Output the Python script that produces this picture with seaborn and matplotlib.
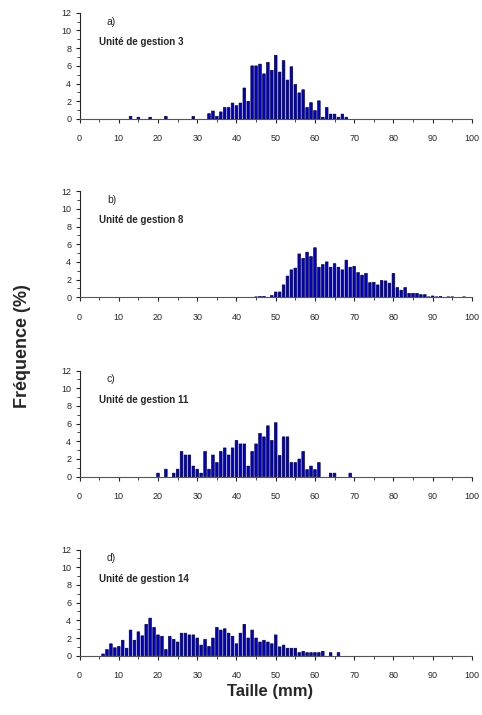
import numpy as np
import pandas as pd
import seaborn as sns
import matplotlib.pyplot as plt
from matplotlib.ticker import MultipleLocator

sns.set_style('ticks')
plt.rcParams['font.family'] = ['Liberation Sans', 'DejaVu Sans']

# classes de taille (mm) et fréquences (%)
taille_a = [13, 15, 18, 22, 29, 33, 34, 35, 36, 37, 38, 39, 40, 41, 42, 43, 44, 45, 46, 47, 48, 49,
            50, 51, 52, 53, 54, 55, 56, 57, 58, 59, 60, 61, 62, 63, 64, 65, 66, 67, 68]
freq_a = [0.3, 0.2, 0.2, 0.3, 0.3, 0.6, 0.9, 0.3, 0.8, 1.3, 1.3, 1.8, 1.5, 1.8, 3.5, 2.0, 6.0, 6.0, 6.2, 5.1, 6.4, 5.5,
          7.2, 5.3, 6.6, 4.4, 5.9, 3.9, 2.95, 3.3, 1.3, 1.85, 0.95, 2.05, 0.2, 1.3, 0.55, 0.55, 0.2, 0.55, 0.2]

taille_b = [45, 46, 47, 49, 50, 51, 52, 53, 54, 55, 56, 57, 58, 59, 60, 61, 62, 63, 64, 65, 66, 67, 68, 69,
            70, 71, 72, 73, 74, 75, 76, 77, 78, 79, 80, 81, 82, 83, 84, 85, 86, 87, 88, 89, 90, 91, 92, 94, 95, 98]
freq_b = [0.05, 0.1, 0.1, 0.2, 0.6, 0.6, 1.4, 2.4, 3.1, 3.3, 4.9, 4.4, 5.1, 4.6, 5.6, 3.4, 3.7, 4.0, 3.4, 3.8, 3.4, 3.1, 4.2, 3.4,
          3.5, 2.8, 2.5, 2.7, 1.65, 1.7, 1.4, 1.9, 1.85, 1.6, 2.7, 1.1, 0.8, 1.1, 0.45, 0.45, 0.45, 0.3, 0.3, 0.05, 0.15, 0.05, 0.1, 0.05, 0.05, 0.05]

taille_c = [20, 22, 24, 25, 26, 27, 28, 29, 30, 31, 32, 33, 34, 35, 36, 37, 38, 39, 40, 41, 42, 43, 44, 45,
            46, 47, 48, 49, 50, 51, 52, 53, 54, 55, 56, 57, 58, 59, 60, 61, 64, 65, 69]
freq_c = [0.4, 0.85, 0.4, 0.85, 2.85, 2.45, 2.45, 1.2, 0.85, 0.4, 2.85, 0.85, 2.45, 1.6, 2.85, 3.25, 2.45, 3.25, 4.1, 3.7, 3.7, 1.2, 2.85, 3.7,
          4.9, 4.5, 5.75, 4.1, 6.1, 2.4, 4.5, 4.5, 1.6, 1.6, 2.0, 2.85, 0.8, 1.2, 0.8, 1.6, 0.4, 0.4, 0.4]

taille_d = [6, 7, 8, 9, 10, 11, 12, 13, 14, 15, 16, 17, 18, 19, 20, 21, 22, 23, 24, 25, 26, 27, 28, 29, 30,
            31, 32, 33, 34, 35, 36, 37, 38, 39, 40, 41, 42, 43, 44, 45, 46, 47, 48, 49, 50, 51, 52, 53, 54,
            55, 56, 57, 58, 59, 60, 61, 62, 64, 66]
freq_d = [0.2, 0.7, 1.35, 0.9, 1.05, 1.75, 0.85, 2.9, 1.75, 2.7, 2.25, 3.55, 4.25, 3.2, 2.35, 2.2, 0.7, 2.2, 1.85, 1.55, 2.55, 2.55, 2.35, 2.35, 2.0,
          1.2, 1.85, 1.05, 2.0, 3.2, 2.9, 3.05, 2.55, 2.2, 1.35, 2.55, 3.55, 2.0, 2.9, 2.0, 1.55, 1.75, 1.55, 1.35, 2.35, 1.0, 1.2, 0.85, 0.85,
          0.85, 0.35, 0.5, 0.35, 0.35, 0.35, 0.35, 0.5, 0.35, 0.35]

lettres = ['a)', 'b)', 'c)', 'd)']
titres = ['Unité de gestion 3', 'Unité de gestion 8', 'Unité de gestion 11', 'Unité de gestion 14']
tailles = [taille_a, taille_b, taille_c, taille_d]
freqs = [freq_a, freq_b, freq_c, freq_d]

fig = plt.figure(figsize=(4.82, 7.15), dpi=100)
bas = [0.8336, 0.5842, 0.3333, 0.0829]
for i in range(4):
    ax = fig.add_axes([0.165, bas[i], 0.814, 0.1485])
    df = pd.DataFrame({'taille': tailles[i], 'freq': freqs[i]})
    sns.barplot(data=df, x='taille', y='freq', native_scale=True, color='#0000c8',
                saturation=1, edgecolor='#000033', linewidth=0.45, width=0.68,
                snap=False, ax=ax)
    ax.set_xlim(0, 100)
    ax.set_ylim(0, 12)
    ax.xaxis.set_major_locator(MultipleLocator(10))
    ax.xaxis.set_minor_locator(MultipleLocator(5))
    ax.yaxis.set_major_locator(MultipleLocator(2))
    ax.yaxis.set_minor_locator(MultipleLocator(1))
    ax.xaxis.set_major_formatter(plt.FuncFormatter(lambda v, p: '%d' % v))
    ax.tick_params(axis='both', which='major', labelsize=6.5, length=3, width=0.8, pad=3)
    ax.tick_params(axis='both', which='minor', length=2, width=0.6)
    ax.tick_params(axis='x', pad=8)
    sns.despine(ax=ax)
    ax.spines['left'].set_linewidth(0.8)
    ax.spines['bottom'].set_linewidth(0.8)
    ax.spines['bottom'].set_color('#555555')
    ax.set_xlabel('')
    ax.set_ylabel('')
    ax.text(7, 11.0, lettres[i], fontsize=7.5, va='center')
    ax.text(5, 8.7, titres[i], fontsize=7, fontweight='bold', va='center')

fig.text(0.046, 0.516, 'Fréquence (%)', rotation=90, fontsize=13, fontweight='bold',
         ha='center', va='center')
fig.text(0.56, 0.033, 'Taille (mm)', fontsize=12, fontweight='bold', ha='center', va='center')

fig.savefig('out.png', dpi=100)
